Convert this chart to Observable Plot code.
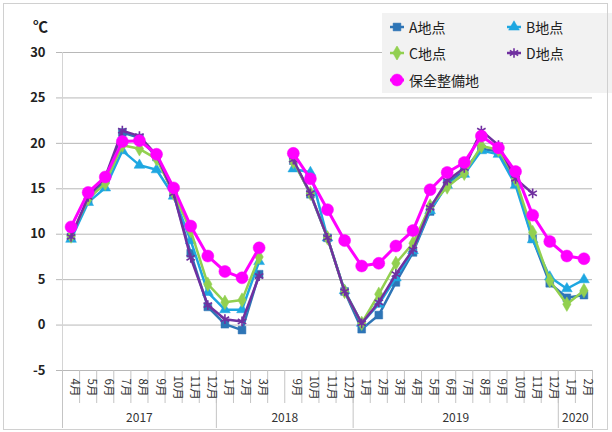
<!DOCTYPE html>
<html>
<head>
<meta charset="utf-8">
<script src="https://cdn.jsdelivr.net/npm/d3@7"></script>
<script src="https://cdn.jsdelivr.net/npm/@observablehq/plot@0.6"></script>
<style>
  body { margin: 0; background: #fff; font-family: "Noto Sans CJK JP", "Noto Sans", sans-serif; }
  #wrap { position: relative; width: 612px; height: 432px; overflow: hidden; }
  #frame { position: absolute; left: 3px; top: 3px; width: 603px; height: 425px; border: 1.5px solid #d0d0d0; pointer-events: none; }
  #unit { position: absolute; left: 33px; top: 15px; font-size: 15px; font-weight: bold; color: #222; }
  #legend { position: absolute; left: 382px; top: 13px; width: 230px; height: 80px; background: #f2f2f2; }
  .item { position: absolute; display: flex; align-items: center; font-size: 14px; color: #222; height: 20px; }
  .item svg { margin-right: 4px; }
</style>
</head>
<body>
<div id="wrap">
  <div id="chart"></div>
  <div id="unit">℃</div>
  <div id="legend"></div>
  <div id="frame"></div>
</div>
<script>
// Month slots along the category axis ("" is the empty slot between 2018 Mar and Sep)
const months = ["4月","5月","6月","7月","8月","9月","10月","11月","12月",
                "1月","2月","3月","","9月","10月","11月","12月",
                "1月","2月","3月","4月","5月","6月","7月","8月","9月","10月","11月","12月",
                "1月","2月"];
const years = ["2017", "2018", "2019", "2020"];
const yearSpans = [9, 8, 12, 2];
const yTicks = [-5, 0, 5, 10, 15, 20, 25, 30];

// Monthly mean temperature (℃) per site
const siteA = [9.7, 13.8, 16.0, 21.2, 20.6, 18.5, 14.4, 7.9, 2.0, 0.1, -0.55, 5.6, null,
               18.1, 14.4, 9.6, 3.7, -0.45, 1.1, 4.7, 8.0, 12.5, 15.6, 17.0, 19.4, 19.1, 15.8, 9.5, 4.6, 3.0, 3.3];
const siteB = [9.45, 13.5, 15.1, 19.2, 17.6, 17.1, 14.2, 9.3, 3.6, 1.7, 1.7, 7.0, null,
               17.2, 16.8, 9.6, 3.8, 0.2, 2.3, 5.2, 8.2, 12.6, 15.4, 16.6, 19.2, 18.8, 15.4, 9.4, 5.3, 4.0, 5.0];
const siteC = [9.8, 13.9, 15.6, 19.8, 19.4, 18.3, 14.5, 10.4, 4.5, 2.5, 2.75, 7.5, null,
               18.0, 14.5, 9.6, 3.7, 0.2, 3.4, 6.8, 9.0, 13.1, 15.2, 16.7, 19.7, 19.3, 16.1, 10.2, 4.9, 2.3, 3.8];
const siteD = [9.7, 14.1, 16.3, 21.4, 20.8, 18.7, 14.5, 7.4, 2.2, 0.65, 0.4, 5.4, null,
               18.2, 14.5, 9.6, 3.7, 0.2, 2.5, 5.6, 8.3, 12.9, 15.9, 17.3, 21.4, 19.8, 16.1, 14.5, null, null, null];
const maintained = [10.8, 14.6, 16.3, 20.2, 20.3, 18.8, 15.1, 10.9, 7.6, 5.9, 5.2, 8.5, null,
               18.9, 16.1, 12.7, 9.3, 6.5, 6.8, 8.7, 10.4, 14.9, 16.8, 17.9, 20.8, 19.5, 16.9, 12.1, 9.2, 7.6, 7.3];

const series = [
  {name: "A地点", values: siteA, color: "#2e75b6", symbol: "square", r: 4.4, width: 2.5},
  {name: "B地点", values: siteB, color: "#1ea7e1", symbol: "triangle", r: 4, width: 2.5},
  {name: "C地点", values: siteC, color: "#92d050", symbol: "diamond", r: 4.4, width: 2.5},
  {name: "D地点", values: siteD, color: "#7030a0", symbol: "asterisk", r: 4.6, width: 2.5},
  {name: "保全整備地", values: maintained, color: "#ff00ff", symbol: "circle", r: 6, width: 3}
];

const slots = months.map((m, i) => ({label: m, pos: i + 0.5}));
let acc = 0;
const yearRows = years.map((y, k) => { const row = {year: y, mid: acc + yearSpans[k] / 2}; acc += yearSpans[k]; return row; });
const yearBounds = [0]; yearSpans.reduce((s, n) => (yearBounds.push(s + n), s + n), 0);

const seriesMarks = series.flatMap(s => {
  const rows = s.values.map((v, i) => ({pos: i + 0.5, value: v}));
  const stroked = s.symbol === "asterisk";
  return [
    Plot.line(rows, {x: "pos", y: "value", stroke: s.color, strokeWidth: s.width, curve: "linear"}),
    Plot.dot(rows.filter(d => d.value != null), {
      x: "pos", y: "value", symbol: () => s.symbol, r: s.r,
      fill: stroked ? "none" : s.color, stroke: s.color, strokeWidth: stroked ? 1.6 : 0.5
    })
  ];
});

const chart = Plot.plot({
  width: 612, height: 432,
  marginLeft: 62, marginRight: 20, marginTop: 52, marginBottom: 62,
  style: {fontFamily: '"Noto Sans CJK JP", "Noto Sans", sans-serif', background: "transparent", color: "#222"},
  x: {domain: [0, months.length], axis: null},
  y: {domain: [-5, 30], axis: null},
  symbol: {type: "identity"},
  marks: [
    // horizontal gridlines with short outward ticks
    Plot.gridY(yTicks, {stroke: "#b8b8b8", strokeOpacity: 1, strokeWidth: 1}),
    Plot.axisY(yTicks, {tickSize: 6, fill: "none", stroke: "#b8b8b8", label: null}),
    Plot.text(yTicks, {y: d => d, frameAnchor: "left", dx: -17, textAnchor: "end", text: d => String(d),
                       fontSize: 13, fontWeight: "bold", fill: "#222"}),
    Plot.ruleX([0], {stroke: "#d4d4d4", strokeWidth: 1}),
    // category axis: month cells and year groups
    Plot.axisX(d3.range(months.length + 1), {tickSize: 33, fill: "none", stroke: "#c4c4c4", label: null}),
    Plot.axisX(yearBounds, {tickSize: 58, fill: "none", stroke: "#c4c4c4", label: null}),
    Plot.text(slots, {x: "pos", text: "label", frameAnchor: "bottom", dy: 17, rotate: 90, fontSize: 11.5, fill: "#333"}),
    Plot.text(yearRows, {x: "mid", text: "year", frameAnchor: "bottom", dy: 51, fontSize: 12, fill: "#333"}),
    ...seriesMarks
  ]
});
document.getElementById("chart").appendChild(chart);

// Legend
const legend = document.getElementById("legend");
const legendPos = [[7, 4], [124, 4], [7, 30], [124, 30], [7, 57]];
series.forEach((s, k) => {
  const item = document.createElement("div");
  item.className = "item";
  item.style.left = legendPos[k][0] + "px";
  item.style.top = legendPos[k][1] + "px";
  const sw = d3.create("svg").attr("width", 16).attr("height", 14);
  sw.append("line").attr("x1", 1).attr("x2", 15).attr("y1", 7).attr("y2", 7)
    .attr("stroke", s.color).attr("stroke-width", s.width);
  const symMap = {square: d3.symbolSquare, triangle: d3.symbolTriangle, diamond: d3.symbolDiamond,
                  asterisk: d3.symbolAsterisk, circle: d3.symbolCircle};
  const stroked = s.symbol === "asterisk";
  sw.append("path").attr("transform", "translate(8,7)")
    .attr("d", d3.symbol(symMap[s.symbol], Math.PI * s.r * s.r)())
    .attr("fill", stroked ? "none" : s.color).attr("stroke", s.color).attr("stroke-width", stroked ? 1.6 : 0.5);
  item.appendChild(sw.node());
  const label = document.createElement("span");
  label.textContent = s.name;
  item.appendChild(label);
  legend.appendChild(item);
});
</script>
</body>
</html>
